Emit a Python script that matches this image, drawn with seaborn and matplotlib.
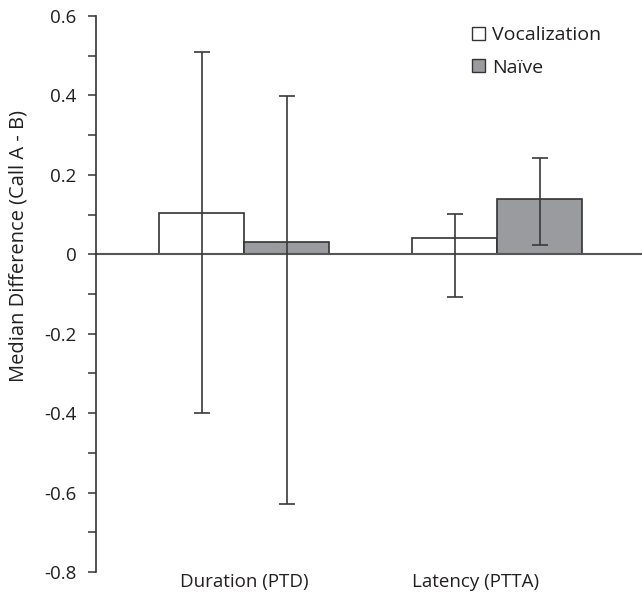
import matplotlib
matplotlib.use("Agg")
import matplotlib.pyplot as plt
import seaborn as sns
import pandas as pd
import numpy as np
from matplotlib.ticker import MultipleLocator
from matplotlib.patches import Patch

measures = ["Duration (PTD)", "Latency (PTTA)"]
groups = ["Vocalization", "Naïve"]
vocal_vals = [0.105, 0.042]
naive_vals = [0.031, 0.139]
vocal_hi = [0.510, 0.101]
vocal_lo = [-0.400, -0.107]
naive_hi = [0.399, 0.243]
naive_lo = [-0.629, 0.024]

df = pd.DataFrame({
    "measure": measures * 2,
    "group": [groups[0]] * 2 + [groups[1]] * 2,
    "value": vocal_vals + naive_vals,
})
his = vocal_hi + naive_hi
los = vocal_lo + naive_lo

sns.set_style("white")
plt.rcParams["font.family"] = ["Open Sans", "DejaVu Sans"]

fig = plt.figure(figsize=(6.42, 5.94), dpi=100)
ax = fig.add_axes([96 / 642, 1 - 572 / 594, 1 - 96 / 642, (572 - 16) / 594])

fill = "#9a9b9e"
edge = "#333333"
sns.barplot(data=df, x="measure", y="value", hue="group", order=measures,
            hue_order=groups, palette=["white", fill], width=0.672,
            edgecolor=edge, linewidth=1.2, errorbar=None, ax=ax, legend=False,
            saturation=1)

ax.axhline(0, color="#555555", lw=1.5, zorder=1)

# error bars at bar centres
patches = sorted(ax.patches, key=lambda p: p.get_x())
vals = df["value"].tolist()
for k, p in enumerate(patches):
    idx = [0, 2, 1, 3][k]
    xc = p.get_x() + p.get_width() / 2
    v = vals[idx]
    ax.errorbar([xc], [v], yerr=[[v - los[idx]], [his[idx] - v]], fmt="none",
                ecolor="#3a3a3a", elinewidth=1.2, capsize=5.5, capthick=1.2,
                zorder=5)

ax.set_xlim(-0.585, 1.573)
ax.set_ylim(-0.8, 0.6)
ax.yaxis.set_major_locator(MultipleLocator(0.2))
ax.yaxis.set_minor_locator(MultipleLocator(0.1))
ax.set_yticklabels([("0" if abs(t) < 1e-9 else f"{t:.1f}") for t in ax.get_yticks()])
ax.tick_params(axis="y", which="both", direction="out", length=6, width=1.1,
               color="#333333", left=True, labelsize=13.5, pad=8,
               labelcolor="#231f20")
ax.set_xticks([0, 0.917])
ax.set_xticklabels(measures)
ax.tick_params(axis="x", length=0, labelsize=13.5, pad=1, labelcolor="#231f20")
ax.set_xlabel("")
ax.set_ylabel("Median Difference (Call A - B)", fontsize=14.5, color="#231f20")
ax.yaxis.label.set(va="center", ha="center", rotation_mode="anchor")
ax.yaxis.set_label_coords((19 - 96) / 546, (572 - 246) / 556)

for s in ["top", "right", "bottom"]:
    ax.spines[s].set_visible(False)
ax.spines["left"].set_color("#333333")
ax.spines["left"].set_linewidth(1.2)

handles = [Patch(facecolor="white", edgecolor=edge, lw=1.0),
           Patch(facecolor=fill, edgecolor=edge, lw=1.0)]
ax.legend(handles, groups, loc="upper left", bbox_to_anchor=(0.66, 1.01),
          frameon=False, fontsize=14, handlelength=0.65, handleheight=0.65,
          handletextpad=0.4, labelspacing=0.75, borderpad=0.3,
          labelcolor="#231f20")

fig.savefig("out.png", dpi=100)
